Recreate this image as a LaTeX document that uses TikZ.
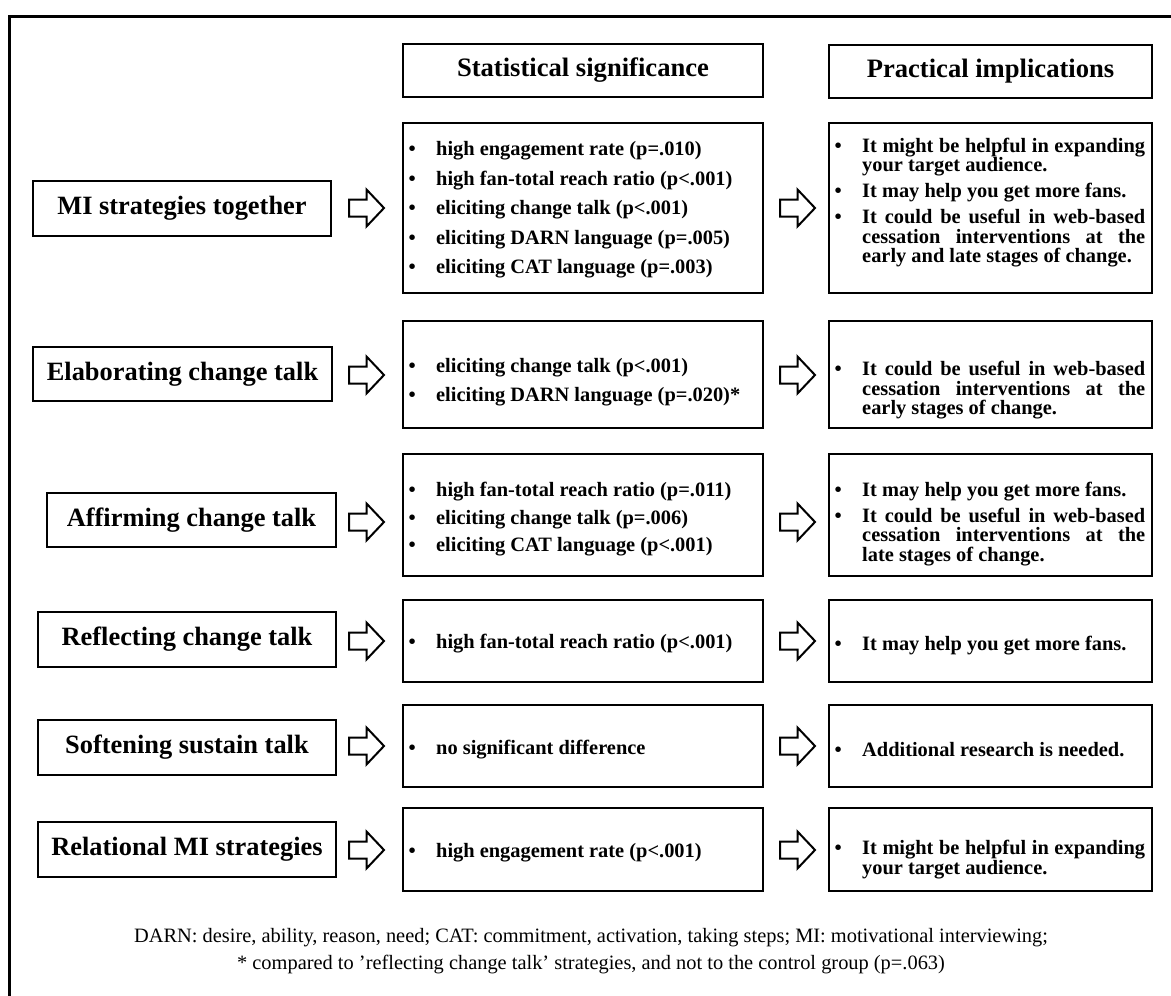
\documentclass[tikz,border=0pt]{standalone}
\usepackage{fontspec}
\setmainfont{Liberation Serif}
\usetikzlibrary{calc}
\hyphenpenalty=10000
\exhyphenpenalty=10000
\tolerance=9999
\newcommand{\bul}{\makebox[29pt][l]{\hspace{1.5pt}\textbullet}}
\newcommand{\ritem}[1]{\noindent\spaceskip=0.25em plus 0.8em\relax\hangindent=29pt\hangafter=1\bul #1\par}
\begin{document}
\begin{tikzpicture}[x=1pt,y=-1pt,
  box/.style={draw, line width=2pt, inner sep=0pt, align=center},
  headtxt/.style={font=\fontsize{26.6}{30}\selectfont\bfseries},
  lbox/.style={box, minimum height=55pt, font=\fontsize{26.4}{30}\selectfont\bfseries},
  mbox/.style={box, minimum width=360pt},
  rbox/.style={box, minimum width=323pt},
  mtxt/.style={anchor=west, inner sep=0pt, text width=356pt, align=left,
    font=\fontsize{20.4}{29.5}\selectfont\bfseries\setlength{\parskip}{0pt}},
  rtxt/.style={anchor=west, inner sep=0pt, text width=312pt, align=justify,
    font=\fontsize{20.4}{19.5}\selectfont\bfseries\setlength{\parskip}{6.5pt}},
  note/.style={align=center, inner sep=0pt, font=\fontsize{20.4}{27}\selectfont},
  barrow/.pic={\draw[line width=2pt, fill=white, line join=miter]
    (0,-8.5) -- (17.5,-8.5) -- (17.5,-18.5) -- (35,0) -- (17.5,18.5) -- (17.5,8.5) -- (0,8.5) -- cycle;}
]
\useasboundingbox (0,0) rectangle (1171,996);
% outer frame (top and left sides)
\draw[line width=3pt] (9.5,996) -- (9.5,16) -- (1171,16);

% headers
\node[box, minimum width=360pt, minimum height=53pt, headtxt] (hs) at (583,70.5) {Statistical significance};
\node[box, minimum width=323pt, minimum height=53pt, headtxt] (hp) at (990.5,71) {Practical implications};

% left boxes
\node[lbox, minimum width=298pt] (l1) at (182,208.5) {MI strategies together};
\node[lbox, minimum width=299pt, minimum height=54pt] (l2) at (182.5,374) {Elaborating change talk};
\node[lbox, minimum width=289pt, minimum height=54pt] (l3) at (191.5,520) {Affirming change talk};
\node[lbox, minimum width=298pt] (l4) at (187,639.5) {Reflecting change talk};
\node[lbox, minimum width=298pt] (l5) at (187,747.5) {Softening sustain talk};
\node[lbox, minimum width=298pt] (l6) at (187,849.5) {Relational MI strategies};

% middle boxes
\node[mbox, minimum height=170pt] (m1) at (583,208) {};
\node[mbox, minimum height=107pt] (m2) at (583,374.5) {};
\node[mbox, minimum height=122pt] (m3) at (583,515) {};
\node[mbox, minimum height=82pt] (m4) at (583,641) {};
\node[mbox, minimum height=82pt] (m5) at (583,746) {};
\node[mbox, minimum height=83pt] (m6) at (583,849.5) {};

% right boxes
\node[rbox, minimum height=170pt] (r1) at (990.5,208) {};
\node[rbox, minimum height=107pt] (r2) at (990.5,374.5) {};
\node[rbox, minimum height=122pt] (r3) at (990.5,515) {};
\node[rbox, minimum height=82pt] (r4) at (990.5,641) {};
\node[rbox, minimum height=82pt] (r5) at (990.5,746) {};
\node[rbox, minimum height=83pt] (r6) at (990.5,849.5) {};

% middle texts
\node[mtxt] (mt1) at (407,210) {\ritem{high engagement rate (p=.010)}\ritem{high fan-total reach ratio (p<.001)}\ritem{eliciting change talk (p<.001)}\ritem{eliciting DARN language (p=.005)}\ritem{eliciting CAT language (p=.003)}};
\node[mtxt] (mt2) at (407,382) {\ritem{eliciting change talk (p<.001)}\ritem{eliciting DARN language (p=.020)*}};
\node[mtxt, font=\fontsize{20.4}{27.5}\selectfont\bfseries] (mt3) at (407,519.5) {\ritem{high fan-total reach ratio (p=.011)}\ritem{eliciting change talk (p=.006)}\ritem{eliciting CAT language (p<.001)}};
\node[mtxt] (mt4) at (407,644) {\ritem{high fan-total reach ratio (p<.001)}};
\node[mtxt] (mt5) at (407,750) {\ritem{no significant difference}};
\node[mtxt] (mt6) at (407,853) {\ritem{high engagement rate (p<.001)}};

% right texts
\node[rtxt] (rt1) at (833,202.5) {\ritem{It might be helpful in expanding your target audience.}\ritem{It may help you get more fans.}\ritem{It could be useful in web-based cessation interventions at the early and late stages of change.}};
\node[rtxt] (rt2) at (833,390.5) {\ritem{It could be useful in web-based cessation interventions at the early stages of change.}};
\node[rtxt] (rt3) at (833,524) {\ritem{It may help you get more fans.}\ritem{It could be useful in web-based cessation interventions at the late stages of change.}};
\node[rtxt] (rt4) at (833,646) {\ritem{It may help you get more fans.}};
\node[rtxt] (rt5) at (833,750) {\ritem{Additional research is needed.}};
\node[rtxt] (rt6) at (833,859.5) {\ritem{It might be helpful in expanding your target audience.}};

% block arrows
\foreach \i/\yy in {1/208,2/375,3/522,4/641,5/746,6/850}{
  \coordinate (a\i) at (349,\yy);
  \coordinate (b\i) at (780,\yy);
  \pic at (a\i) {barrow};
  \pic at (b\i) {barrow};
}

% footnote
\node[note] (fn) at (591,951.5) {DARN: desire, ability, reason, need; CAT: commitment, activation, taking steps; MI: motivational interviewing;\\ * compared to ’reflecting change talk’ strategies, and not to the control group (p=.063)};
\end{tikzpicture}
\end{document}
